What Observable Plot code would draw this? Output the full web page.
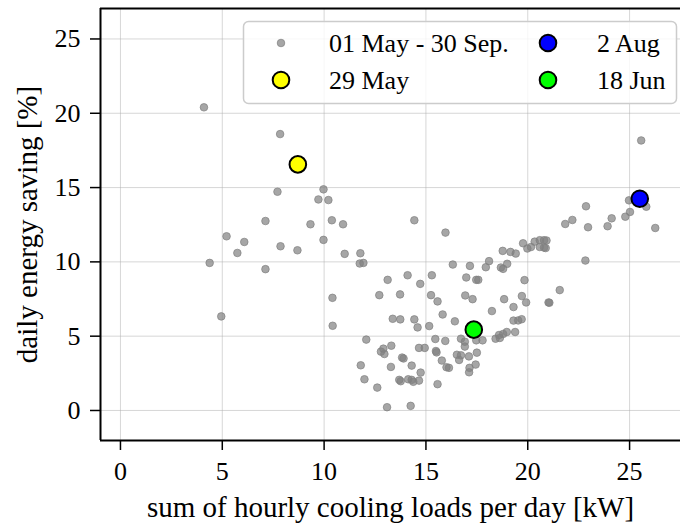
<!DOCTYPE html>
<html>
<head>
<meta charset="utf-8">
<script src="https://cdn.jsdelivr.net/npm/d3@7"></script>
<script src="https://cdn.jsdelivr.net/npm/@observablehq/plot@0.6"></script>
<style>
  html, body { margin: 0; padding: 0; background: white; }
  #wrap { position: relative; width: 680px; height: 523px; }
  #legend { position: absolute; left: 0; top: 0; pointer-events: none; }
</style>
</head>
<body>
<div id="wrap"></div>
<script>
// ---- data ----
const allX = [4.10,7.84,7.71,9.97,9.72,10.21,7.12,9.33,10.38,10.93,5.21,6.08,5.74,7.86,8.69,9.97,11.01,11.78,11.75,11.93,4.38,7.12,12.71,10.41,4.95,10.42,
  14.43,15.96,16.32,13.12,14.10,15.29,14.72,13.73,15.25,15.57,15.82,13.37,13.74,14.43,16.42,
  21.84,19.77,19.98,20.16,20.34,20.59,20.80,20.92,20.59,20.80,20.88,18.77,19.15,19.41,18.10,17.94,18.68,18.79,18.99,17.16,16.98,17.47,17.57,19.84,21.57,16.93,17.29,18.84,19.71,19.92,21.02,21.06,18.24,19.30,19.30,19.53,19.70,
  14.59,15.16,12.07,12.91,12.79,12.96,13.30,13.83,13.90,13.28,14.30,14.74,14.66,14.94,15.46,15.95,15.49,15.52,15.78,16.01,16.13,16.52,11.80,11.98,12.61,13.69,13.76,14.13,14.30,14.38,14.66,15.57,13.09,14.25,
  19.38,18.97,18.79,18.59,18.42,18.63,16.72,16.91,17.47,17.78,16.91,16.72,17.11,17.50,16.63,17.44,17.14,17.12,
  25.57,24.97,25.82,25.02,24.79,24.12,23.92,26.26,22.86,22.96,22.19,22.83,
  8.71,25.50,17.35];
const allY = [20.4,18.6,14.72,14.88,14.2,14.16,12.75,12.53,12.8,12.53,11.72,11.34,10.6,11.05,10.78,11.48,10.54,10.58,9.89,9.93,9.93,9.51,7.76,7.58,6.33,5.70,
  12.8,11.97,9.82,8.79,9.1,9.1,8.52,7.81,7.76,7.34,6.46,6.17,6.13,6.13,6.0,
  12.55,11.25,10.9,11.0,11.36,11.46,11.46,11.44,11.0,10.96,10.93,10.74,10.67,10.56,10.05,9.64,9.62,9.53,9.87,9.73,8.95,8.79,8.79,8.77,8.1,7.74,7.49,7.49,7.70,7.27,7.27,7.25,6.69,6.96,6.05,6.06,6.14,
  5.59,5.68,4.77,4.16,3.96,3.8,4.36,3.56,3.5,2.93,3.02,2.55,4.21,4.21,4.81,4.68,4.0,3.91,3.36,2.91,2.87,3.75,3.04,2.1,1.54,2.06,1.97,2.1,2.06,1.93,2.01,1.77,0.22,0.31,
  5.28,5.28,5.15,5.08,4.83,4.88,4.83,4.63,4.72,4.72,4.3,3.71,3.64,3.89,3.4,3.09,2.87,2.57,
  18.17,14.14,13.71,13.36,13.04,12.93,12.4,12.28,13.74,12.33,12.82,10.09,
  16.56,14.25,5.44];

const hlLabels = ["29 May", "2 Aug", "18 Jun"];
const hlX = [8.71, 25.50, 17.35];
const hlY = [16.56, 14.25, 5.44];
const hlColors = ["#ffff00", "#0000ff", "#00ff00"];

const allLabel = "01 May - 30 Sep.";
const xTicks = [0, 5, 10, 15, 20, 25];
const yTicks = [0, 5, 10, 15, 20, 25];
const xDomain = [-0.98, 27.5];
const yDomain = [-2.02, 27.05];
const xLabel = "sum of hourly cooling loads per day [kW]";
const yLabel = "daily energy saving [%]";

// ---- build tables ----
const points = allX.map((x, i) => ({x, y: allY[i]}));
const highlights = hlLabels.map((label, i) => ({label, x: hlX[i], y: hlY[i], color: hlColors[i]}));

const FONT = "'Liberation Serif', 'Times New Roman', serif";

const chart = Plot.plot({
  width: 680,
  height: 523,
  marginLeft: 100,
  marginRight: 0,
  marginTop: 8,
  marginBottom: 83,
  style: {fontFamily: FONT, fontSize: "26px", color: "black", background: "white", overflow: "visible"},
  x: {domain: xDomain},
  y: {domain: yDomain},
  marks: [
    Plot.gridX(xTicks, {stroke: "#b0b0b0", strokeOpacity: 0.5, strokeWidth: 1}),
    Plot.gridY(yTicks, {stroke: "#b0b0b0", strokeOpacity: 0.5, strokeWidth: 1}),
    Plot.dot(points, {x: "x", y: "y", r: 3.8, fill: "gray", fillOpacity: 0.7, stroke: "gray", strokeOpacity: 0.7, strokeWidth: 1}),
    Plot.dot(highlights, {x: "x", y: "y", r: 8.3, fill: "color", stroke: "black", strokeWidth: 2}),
    Plot.ruleX([xDomain[0]], {stroke: "black", strokeWidth: 2}),
    Plot.ruleY([yDomain[0]], {stroke: "black", strokeWidth: 2}),
    Plot.ruleY([yDomain[1]], {stroke: "black", strokeWidth: 2}),
    Plot.axisX(xTicks, {tickSize: 10, strokeWidth: 1.5, fill: "none", label: null}),
    Plot.axisY(yTicks, {tickSize: 10, strokeWidth: 1.5, fill: "none", label: null}),
    Plot.text(xTicks, {x: d => d, text: d => String(d), frameAnchor: "bottom", dy: 31, lineAnchor: "middle", textAnchor: "middle", fontSize: 26, fill: "black"}),
    Plot.text(yTicks, {y: d => d, text: d => String(d), frameAnchor: "left", dx: -20, lineAnchor: "middle", textAnchor: "end", fontSize: 26, fill: "black"}),
    Plot.text([xLabel], {frameAnchor: "bottom", dy: 67, lineAnchor: "middle", textAnchor: "middle", fontSize: 29, fill: "black"}),
    Plot.text([yLabel], {frameAnchor: "left", dx: -73, rotate: -90, lineAnchor: "middle", textAnchor: "middle", fontSize: 29, fill: "black"})
  ]
});

const wrap = document.getElementById("wrap");
wrap.appendChild(chart);

// ---- legend overlay ----
const legendItems = [
  {label: allLabel, color: "gray", r: 3.8, gray: true, col: 0, row: 0},
  {label: hlLabels[0], color: hlColors[0], r: 8.3, col: 0, row: 1},
  {label: hlLabels[1], color: hlColors[1], r: 8.3, col: 1, row: 0},
  {label: hlLabels[2], color: hlColors[2], r: 8.3, col: 1, row: 1}
];
const lg = d3.select(wrap).append("svg")
  .attr("id", "legend")
  .attr("width", 680).attr("height", 523)
  .style("font-family", FONT);
lg.append("rect")
  .attr("x", 243.5).attr("y", 21.5).attr("width", 433).attr("height", 82)
  .attr("rx", 5).attr("fill", "white").attr("fill-opacity", 0.8)
  .attr("stroke", "#cccccc").attr("stroke-width", 1.5);
const colMarker = [281, 548];
const colText = [329, 597];
const rowY = [43, 80];
const g = lg.selectAll("g.item").data(legendItems).join("g").attr("class", "item");
g.append("circle")
  .attr("cx", d => colMarker[d.col]).attr("cy", d => rowY[d.row]).attr("r", d => d.r)
  .attr("fill", d => d.color)
  .attr("fill-opacity", d => d.gray ? 0.7 : 1)
  .attr("stroke", d => d.gray ? "gray" : "black")
  .attr("stroke-opacity", d => d.gray ? 0.7 : 1)
  .attr("stroke-width", d => d.gray ? 1 : 2);
g.append("text")
  .attr("x", d => colText[d.col]).attr("y", d => rowY[d.row])
  .attr("dy", "0.35em")
  .attr("font-size", 26)
  .attr("fill", "black")
  .text(d => d.label);
</script>
</body>
</html>
